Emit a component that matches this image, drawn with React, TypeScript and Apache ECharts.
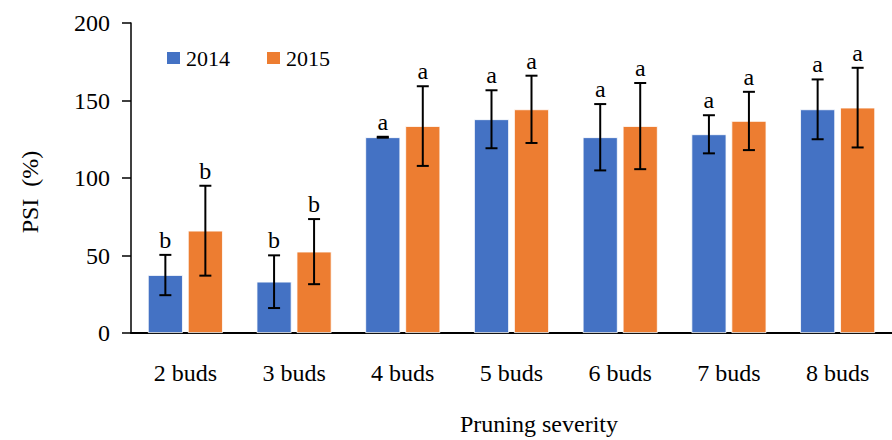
import React, { useEffect, useRef } from "react";
import * as echarts from "echarts";

const categories = ["2 buds", "3 buds", "4 buds", "5 buds", "6 buds", "7 buds", "8 buds"];
const psi2014 = [37.4, 33.1, 126.3, 137.9, 126.3, 128.2, 144.3];
const err2014 = [13, 17, 0.3, 18.7, 21.4, 12.3, 19.3];
const letters2014 = ["b", "b", "a", "a", "a", "a", "a"];
const psi2015 = [66, 52.5, 133.5, 144.3, 133.5, 136.8, 145.4];
const err2015 = [29, 21, 25.7, 21.7, 27.8, 18.8, 25.7];
const letters2015 = ["b", "b", "a", "a", "a", "a", "a"];
const yTicks = [0, 50, 100, 150, 200];

const FONT = '"Liberation Serif", "Times New Roman", serif';
const BAR_W = 35;
const BAR_GAP = 5;

function errSeries(name: string, means: number[], errs: number[], letters: string[], offset: number) {
  return {
    name,
    type: "custom",
    z: 10,
    data: means.map((m, i) => [i, m, errs[i]]),
    renderItem: (params: any, api: any) => {
      const i = api.value(0);
      const m = api.value(1);
      const e = api.value(2);
      const top = api.coord([i, m + e]);
      const bot = api.coord([i, m - e]);
      const x = top[0] + offset;
      const st = { stroke: "#000", lineWidth: 2 };
      return {
        type: "group",
        children: [
          { type: "line", shape: { x1: x, y1: top[1], x2: x, y2: bot[1] }, style: st },
          { type: "line", shape: { x1: x - 6, y1: top[1], x2: x + 6, y2: top[1] }, style: st },
          { type: "line", shape: { x1: x - 6, y1: bot[1], x2: x + 6, y2: bot[1] }, style: st },
          {
            type: "text",
            x: x,
            y: top[1] - 3,
            style: {
              text: letters[params.dataIndex],
              fontFamily: FONT,
              fontSize: 24,
              fill: "#000",
              align: "center",
              verticalAlign: "bottom",
            },
          },
        ],
      };
    },
  };
}

export default function App() {
  const ref = useRef<HTMLDivElement>(null);
  useEffect(() => {
    if (!ref.current) return;
    const chart = echarts.init(ref.current, undefined, { renderer: "svg" });
    const off = (BAR_W + BAR_GAP) / 2;
    chart.setOption({
      animation: false,
      backgroundColor: "#fff",
      textStyle: { fontFamily: FONT, color: "#000" },
      grid: { left: 131, top: 23, bottom: 107, width: 772 },
      legend: {
        left: 160,
        top: 42,
        itemWidth: 15,
        itemHeight: 14,
        itemGap: 35,
        icon: "rect",
        data: ["2014", "2015"],
        textStyle: { fontFamily: FONT, fontSize: 22, color: "#000" },
      },
      xAxis: {
        type: "category",
        data: categories,
        axisLine: { lineStyle: { color: "#000", width: 2 } },
        axisTick: { show: false },
        axisLabel: { fontFamily: FONT, fontSize: 24, color: "#000", margin: 28 },
      },
      yAxis: {
        type: "value",
        min: 0,
        max: 200,
        interval: 50,
        splitLine: { show: false },
        axisLine: { show: true, lineStyle: { color: "#000", width: 1.5 } },
        axisTick: { show: true, length: 9, lineStyle: { color: "#000", width: 1.5 } },
        axisLabel: {
          fontFamily: FONT,
          fontSize: 24,
          color: "#000",
          margin: 21,
          formatter: (v: number) => (yTicks.includes(v) ? String(v) : ""),
        },
      },
      graphic: [
        {
          type: "text",
          x: 30,
          y: 192,
          rotation: Math.PI / 2,
          style: {
            text: "PSI  (%)",
            fontFamily: FONT,
            fontSize: 24,
            fill: "#000",
            align: "center",
            verticalAlign: "middle",
          },
        },
        {
          type: "text",
          x: 539,
          y: 424,
          style: {
            text: "Pruning severity",
            fontFamily: FONT,
            fontSize: 24,
            fill: "#000",
            align: "center",
            verticalAlign: "middle",
          },
        },
      ],
      series: [
        {
          name: "2014",
          type: "bar",
          data: psi2014,
          barWidth: BAR_W,
          barGap: `${(BAR_GAP / BAR_W) * 100}%`,
          itemStyle: { color: "#4472C4", borderColor: "#ffffff", borderWidth: 0.8 },
        },
        {
          name: "2015",
          type: "bar",
          data: psi2015,
          barWidth: BAR_W,
          itemStyle: { color: "#ED7D31", borderColor: "#ffffff", borderWidth: 0.8 },
        },
        errSeries("err2014", psi2014, err2014, letters2014, -off),
        errSeries("err2015", psi2015, err2015, letters2015, off),
      ],
    });
    return () => chart.dispose();
  }, []);
  return (
    <div
      ref={ref}
      style={{ position: "absolute", left: 0, top: 0, width: 892, height: 440 }}
    />
  );
}
